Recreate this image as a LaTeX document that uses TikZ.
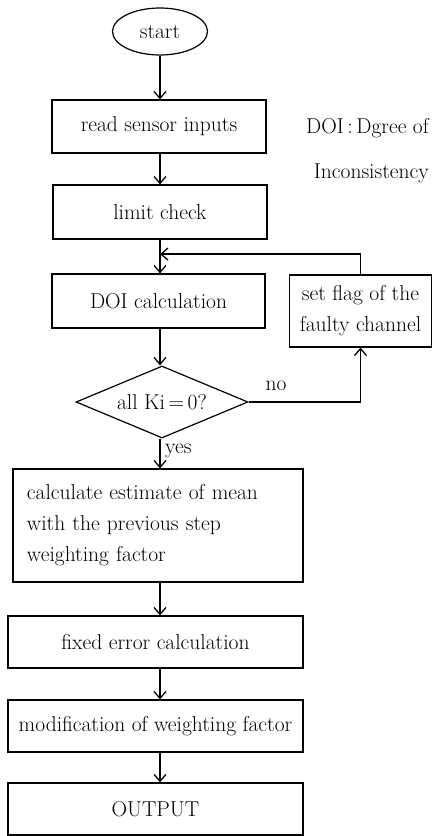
\documentclass[tikz,border=0pt]{standalone}
\usetikzlibrary{shapes.geometric,arrows.meta}
\begin{document}
\begin{tikzpicture}[x=1pt,y=-1pt,
  every node/.style={font=\fontsize{21.5}{31}\selectfont},
  box/.style={draw, line width=1.2pt, inner sep=0pt, align=center},
  arr/.style={draw, line width=1.2pt, -{Straight Barb[length=7pt,width=12pt,line width=1.3pt]}},
  lbl/.style={inner sep=0pt}]
\useasboundingbox (0,0) rectangle (433,836);
\coordinate (axis) at (160,0);
% main column
\node[box, ellipse, minimum width=95pt, minimum height=47pt] (start) at (160,31.5) {start};
\node[box, minimum width=214pt, minimum height=53pt] (read) at (159,126.5) {read sensor inputs};
\node[box, minimum width=214pt, minimum height=54pt] (limit) at (160,212) {limit check};
\node[box, minimum width=213pt, minimum height=54pt] (doi) at (158.5,301) {DOI calculation};
\node[box, diamond, aspect=2.4, minimum width=172pt, minimum height=72pt] (dia) at (162,402) {all Ki\,=\,0?};
\node[box, minimum width=290pt, minimum height=113pt, text width=262pt, align=left] (calc) at (158,525.5)
  {calculate estimate of mean\\with the previous step\\weighting factor};
\node[box, minimum width=295pt, minimum height=52pt] (fixed) at (155.5,642) {fixed error calculation};
\node[box, minimum width=295pt, minimum height=52pt] (mod) at (155.5,726) {modification of weighting factor};
\node[box, minimum width=295pt, minimum height=52pt] (out) at (155.5,809) {OUTPUT};
% side box
\node[box, minimum width=142pt, minimum height=72pt] (flag) at (360.5,311) {set flag of the\\faulty channel};
% note
\node[lbl, align=right, anchor=north east, font=\fontsize{21.5}{45}\selectfont] (note) at (429,118) {DOI\,:\,Dgree of\\Inconsistency};
% labels
\node[lbl] (no) at (276,386) {no};
\node[lbl, anchor=west] (yes) at (165,451) {yes};
% connectors
\coordinate (join) at (160,254);
\draw[arr] (start.south -| axis) -- (read.north -| axis);
\draw[arr] (read.south -| axis) -- (limit.north -| axis);
\draw[arr] (limit.south -| axis) -- (doi.north -| axis);
\draw[arr] (flag.north) |- (join);
\draw[arr] (doi.south -| axis) -- (dia.north -| axis);
\draw[arr] (dia.east) -| (flag.south);
\draw[arr] (dia.south -| axis) -- (calc.north -| axis);
\draw[arr] (calc.south -| axis) -- (fixed.north -| axis);
\draw[arr] (fixed.south -| axis) -- (mod.north -| axis);
\draw[arr] (mod.south -| axis) -- (out.north -| axis);
\end{tikzpicture}
\end{document}
